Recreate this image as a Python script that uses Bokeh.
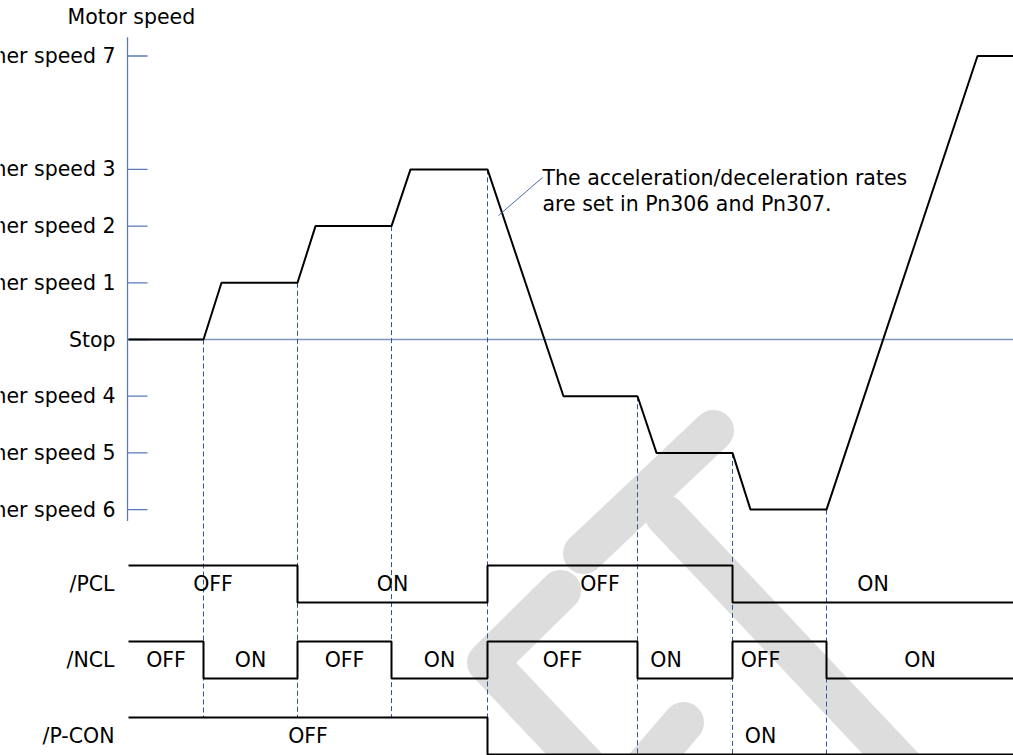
import numpy as np
from bokeh.plotting import figure
from bokeh.models import Range1d
from bokeh.core.properties import value
from bokeh.embed import file_html
from bokeh.resources import INLINE

# ---------------- data ----------------
speed_levels = [5, 3, 2, 1, 0, -1, -2, -3]
speed_labels = ["Inner speed 7", "Inner speed 3", "Inner speed 2", "Inner speed 1",
                "Stop", "Inner speed 4", "Inner speed 5", "Inner speed 6"]
axis_title = "Motor speed"

# motor speed trace (time units, speed level)
motor_t = [0, 75, 93, 169, 187, 263, 282, 359, 435, 509, 528, 604, 622, 698, 849, 885]
motor_v = [0, 0, 1, 1, 2, 2, 3, 3, -1, -1, -2, -2, -3, -3, 5, 5]

# command switching instants
switch_t = [75, 169, 263, 359, 509, 604, 698]

signal_names = ["/PCL", "/NCL", "/P-CON"]
pcl_edges = [0, 169, 359, 604, 885]
pcl_states = ["OFF", "ON", "OFF", "ON"]
ncl_edges = [0, 75, 169, 263, 359, 509, 604, 698, 885]
ncl_states = ["OFF", "ON", "OFF", "ON", "OFF", "ON", "OFF", "ON"]
pcon_edges = [0, 359, 885]
pcon_states = ["OFF", "ON"]

note_lines = ["The acceleration/deceleration rates", "are set in Pn306 and Pn307."]

# ---------------- layout / style ----------------
W, H = 1013, 755
X0, X1 = -128, 885
Y0, Y1 = -7.337, 5.979
PX_Y = H / (Y1 - Y0)
ROW_TOP = [-3.986, -5.326, -6.667]
AMP = 0.652
FONT = value("DejaVu Sans")
FS = "20.5px"
AXIS_C = "#5a7bb5"
STOP_C = "#7f97bd"
DASH_C = "#2f5597"
WM_C = "#dddddd"
label_nudge = {(0, 2): -10, (1, 5): -19, (1, 6): -19, (2, 1): 10}


def px2d(x, y):
    return x + X0, Y1 - y / PX_Y


p = figure(width=W, height=H, x_range=Range1d(X0, X1), y_range=Range1d(Y0, Y1),
           output_backend="svg", toolbar_location=None,
           x_axis_type=None, y_axis_type=None,
           min_border=0, min_border_left=0, min_border_right=0,
           min_border_top=0, min_border_bottom=0)
p.outline_line_color = None
p.background_fill_color = "white"
p.border_fill_color = "white"

# ---- watermark (decorative) ----
wm_strokes_px = [
    [(713, 430), (583, 553)],
    [(665, 515), (925, 790)],
    [(560, 590), (487, 662), (594, 775)],
    [(683, 722), (640, 772)],
]
wm_xs, wm_ys = [], []
for s in wm_strokes_px:
    pts = [px2d(x, y) for x, y in s]
    wm_xs.append([a for a, b in pts])
    wm_ys.append([b for a, b in pts])
p.multi_line(wm_xs, wm_ys, line_color=WM_C, line_width=41,
             line_cap="round", line_join="round")

# ---- speed axis (drawn with glyphs so labels clip at page edge) ----
ax_x = -1
p.segment(x0=[ax_x], y0=[5.33], x1=[ax_x], y1=[-3.2], line_color=AXIS_C, line_width=1.3)
p.segment(x0=[ax_x] * len(speed_levels), y0=speed_levels,
          x1=[ax_x + 20] * len(speed_levels), y1=speed_levels,
          line_color=AXIS_C, line_width=1.3)
p.text(x=[ax_x - 12] * len(speed_levels), y=speed_levels, text=speed_labels,
       text_align="right", text_baseline="middle", text_font=FONT,
       text_font_size=FS, text_color="black")
p.text(x=[X0 + 67], y=[Y1 - 16 / PX_Y], text=[axis_title], text_align="left",
       text_baseline="middle", text_font=FONT, text_font_size=FS, text_color="black")

# stop reference line
p.segment(x0=[ax_x], y0=[0], x1=[X1], y1=[0], line_color=STOP_C, line_width=1.6)

# ---- dashed switching markers ----
def state_at(edges, states, t):
    i = int(np.searchsorted(edges, t, side="left")) - 1
    return states[max(i, 0)]

d_top = [float(np.interp(t, motor_t, motor_v)) for t in switch_t]
d_bot = [ROW_TOP[2] - (AMP if state_at(pcon_edges, pcon_states, t) == "ON" else 0)
         for t in switch_t]
p.segment(x0=switch_t, y0=d_top, x1=switch_t, y1=d_bot,
          line_color=DASH_C, line_width=1, line_dash="5 3")

# ---- motor speed ----
p.line(motor_t, motor_v, line_color="black", line_width=2)

# ---- annotation ----
nx0, ny0 = px2d(498, 215)
nx1, ny1 = px2d(542, 177)
p.segment(x0=[nx0], y0=[ny0], x1=[nx1], y1=[ny1], line_color="#4a6fa5", line_width=1)
p.text(x=[nx1, nx1], y=[ny1, ny1 - 26 / PX_Y], text=note_lines,
       text_align="left", text_baseline="middle", text_font=FONT,
       text_font_size=FS, text_color="black")

# ---- control signals ----
sig_defs = [(pcl_edges, pcl_states), (ncl_edges, ncl_states), (pcon_edges, pcon_states)]
for r, (edges, states) in enumerate(sig_defs):
    top = ROW_TOP[r]
    xs, ys = [], []
    for i, st in enumerate(states):
        yv = top if st == "OFF" else top - AMP
        xs += [edges[i], edges[i + 1]]
        ys += [yv, yv]
    p.line(xs, ys, line_color="black", line_width=2)
    mid = top - AMP / 2
    lx = [(edges[i] + edges[i + 1]) / 2 + label_nudge.get((r, i), 0) for i in range(len(states))]
    p.text(x=lx, y=[mid] * len(states), text=states, text_align="center",
           text_baseline="middle", text_font=FONT, text_font_size=FS, text_color="black")

p.text(x=[ax_x - 13] * 3, y=[t - AMP / 2 for t in ROW_TOP], text=signal_names,
       text_align="right", text_baseline="middle", text_font=FONT,
       text_font_size=FS, text_color="black")

open("out.html", "w").write(file_html(p, INLINE))
